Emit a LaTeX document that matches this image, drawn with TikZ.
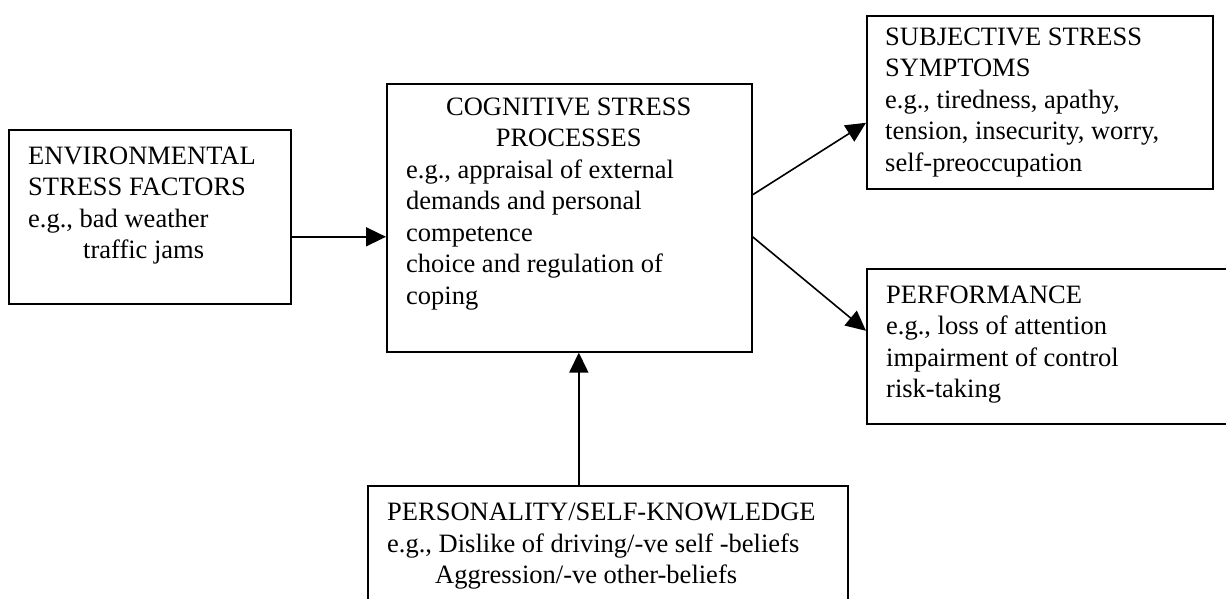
\documentclass[tikz,border=0pt]{standalone}
\usepackage{fontspec}
\setmainfont{Liberation Serif}
\usetikzlibrary{arrows.meta,positioning}

\tikzset{
  box/.style={draw, line width=1.6pt, inner sep=0pt, anchor=north west},
  txt/.style={anchor=north west, align=left, inner sep=0pt,
    font=\fontsize{26.5}{31.5}\selectfont},
  conn/.style={line width=1.6pt, -{Triangle[length=20pt,width=19pt]}},
}

\begin{document}
\begin{tikzpicture}[x=1pt,y=-1pt]
\useasboundingbox (0,0) rectangle (1226,599);
\clip (0,0) rectangle (1226,599);

% the five boxes
\node[box, minimum width=282pt, minimum height=174pt] (env) at (8,129) {};
\node[box, minimum width=365pt, minimum height=268pt] (cog) at (386,83) {};
\node[box, minimum width=346pt, minimum height=173pt] (subj) at (866,15) {};
\node[box, minimum width=370pt, minimum height=155pt] (perf) at (866,268) {};
\node[box, minimum width=480pt, minimum height=130pt] (pers) at (367,485) {};

% their texts
\node[txt] (envtext) at ([xshift=20pt,yshift=-17.5pt]env.north west)
  {ENVIRONMENTAL\\STRESS FACTORS\\e.g., bad weather\\\hspace*{55pt}traffic jams};
\node[txt] (cogtext) at ([xshift=20pt,yshift=-14.5pt]cog.north west)
  {\makebox[325pt]{COGNITIVE STRESS}\\\makebox[325pt]{PROCESSES}\\
   e.g., appraisal of external\\demands and personal\\competence\\
   choice and regulation of\\coping};
\node[txt] (subjtext) at ([xshift=19pt,yshift=-12.5pt]subj.north west)
  {SUBJECTIVE STRESS\\SYMPTOMS\\e.g., tiredness, apathy,\\
   tension, insecurity, worry,\\self-preoccupation};
\node[txt] (perftext) at ([xshift=20pt,yshift=-17.5pt]perf.north west)
  {PERFORMANCE\\e.g., loss of attention\\impairment of control\\risk-taking};
\node[txt] (perstext) at ([xshift=20pt,yshift=-18pt]pers.north west)
  {PERSONALITY/SELF-KNOWLEDGE\\e.g., Dislike of driving/-ve self -beliefs\\
   \hspace*{48pt}Aggression/-ve other-beliefs};

% arrows
\draw[conn] ([yshift=-20pt]env.east) -- ([yshift=-19pt]cog.west);
\draw[conn] ([yshift=23pt]cog.east) -- ([yshift=-20.5pt]subj.west);
\draw[conn] ([yshift=-19pt]cog.east) -- ([yshift=15.5pt]perf.west);
\draw[conn] ([xshift=-29pt]pers.north) -- ([xshift=9.5pt]cog.south);
\end{tikzpicture}
\end{document}
